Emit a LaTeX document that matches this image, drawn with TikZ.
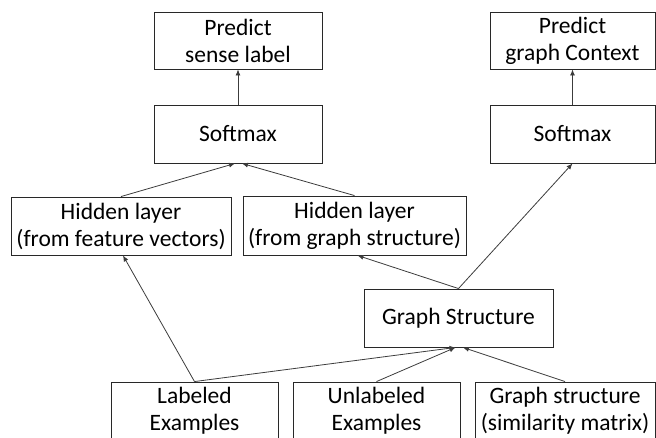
\documentclass[tikz,border=0pt]{standalone}
\usepackage{fontspec}
\setmainfont{Carlito}
\usetikzlibrary{arrows.meta}
\definecolor{boxline}{RGB}{40, 40, 40}
\definecolor{flowline}{RGB}{60, 60, 60}
\tikzset{
  blockbox/.style={draw=boxline, line width=0.9pt, fill=white, align=center, inner sep=0pt, font=\fontsize{23.5}{27}\selectfont},
  flow/.style={draw=flowline, line width=0.8pt, -{Latex[length=6pt,width=5pt]}},
}
\begin{document}
\begin{tikzpicture}[x=1pt, y=-1pt]
\useasboundingbox (0,0) rectangle (656,437);
\clip (0,0) rectangle (656,437);

\node[blockbox, minimum width=168pt, minimum height=57pt] (predsense) at (238,40.5) {Predict\\sense label};
\node[blockbox, minimum width=168pt, minimum height=58pt] (softsense) at (238,134) {Softmax};
\node[blockbox, minimum width=165pt, minimum height=57pt] (predgraph) at (572.5,40.5) {Predict\\graph Context};
\node[blockbox, minimum width=165pt, minimum height=58pt] (softgraph) at (572.5,134) {Softmax};

\node[blockbox, minimum width=220pt, minimum height=58pt] (hidfeat) at (121,226) {Hidden layer\\(from feature vectors)};
\node[blockbox, minimum width=223pt, minimum height=59pt] (hidgraph) at (354.5,225.5) {Hidden layer\\(from graph structure)};
\node[blockbox, minimum width=189pt, minimum height=58pt] (graphstr) at (458.5,318) {Graph Structure};

\node[blockbox, minimum width=167pt, minimum height=58pt] (labeled) at (194.5,411) {Labeled\\Examples};
\node[blockbox, minimum width=167pt, minimum height=58pt] (unlabeled) at (376.5,411) {Unlabeled\\Examples};
\node[blockbox, minimum width=180pt, minimum height=58pt] (simmatrix) at (565,411) {Graph structure\\(similarity matrix)};

\draw[flow] (softsense) -- (predsense);
\draw[flow] (softgraph) -- (predgraph);
\draw[flow] (hidfeat.north) -- ([xshift=-3pt]softsense.south);
\draw[flow] (hidgraph.north) -- ([xshift=4pt]softsense.south);
\draw[flow] (graphstr.north) -- (softgraph.south);
\draw[flow] (graphstr.north) -- ([xshift=3pt]hidgraph.south);
\draw[flow] (labeled.north) -- ([xshift=2pt]hidfeat.south);
\draw[flow] (labeled.north) -- ([xshift=-3pt]graphstr.south);
\draw[flow] (unlabeled.north) -- ([xshift=-3pt]graphstr.south);
\draw[flow] (simmatrix.north) -- ([xshift=4.5pt]graphstr.south);
\end{tikzpicture}
\end{document}
